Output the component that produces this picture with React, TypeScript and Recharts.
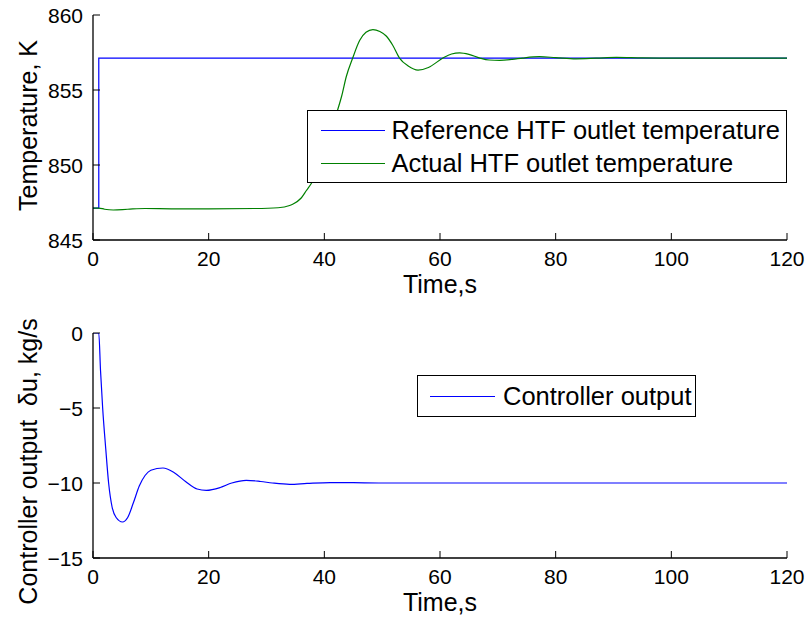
import React from "react";
import { LineChart, Line, XAxis, YAxis, Legend } from "recharts";

// time stamps (s) and values
const refTime = [0, 1, 1, 120];
const refTemp = [847.13, 847.13, 857.13, 857.13];

const actTime = [0, 1, 2, 3.5, 6, 9, 14, 20, 28, 32, 34, 34.6, 36, 36.9, 37.8, 39, 40, 41, 42, 43, 43.8, 44.9, 46.1, 47.2, 48.4, 49.6, 50.7, 51.8, 53, 54.5, 56.2, 58, 60.5, 62, 63.4, 65, 66.9, 68.5, 70.3, 72.5, 74.3, 77.2, 80, 83.5, 87, 90.5, 95, 100, 110, 120];
const actTemp = [847.13, 847.13, 847.05, 847.0, 847.05, 847.1, 847.08, 847.08, 847.1, 847.15, 847.3, 847.4, 847.8, 848.3, 848.8, 849.7, 850.7, 852.0, 853.3, 854.6, 855.9, 857.13, 858.3, 858.85, 859.03, 858.9, 858.6, 858.0, 857.13, 856.6, 856.33, 856.5, 857.13, 857.4, 857.48, 857.38, 857.13, 857.0, 856.98, 857.04, 857.13, 857.22, 857.16, 857.08, 857.12, 857.17, 857.14, 857.13, 857.13, 857.13];

const ctlTime = [0, 1, 1.3, 1.67, 2.2, 2.7, 3.3, 4, 5.1, 6, 7, 8, 9, 10, 12.1, 14, 16, 18, 19.6, 22, 24, 26.5, 29, 31, 34, 37, 41, 45, 50, 60, 80, 100, 120];
const ctlOut = [0, 0, -2.5, -5, -7.7, -10, -11.6, -12.3, -12.6, -12.3, -11.3, -10.2, -9.5, -9.15, -9.0, -9.3, -9.9, -10.4, -10.49, -10.3, -10.0, -9.82, -9.9, -10.0, -10.09, -10.03, -9.97, -9.98, -10.0, -10.0, -10.0, -10.0, -10.0];

const xTicks = [0, 20, 40, 60, 80, 100, 120];
const tempTicks = [845, 850, 855, 860];
const ctlTicks = [-15, -10, -5, 0];

const refName = "Reference HTF outlet temperature";
const actName = "Actual HTF outlet temperature";
const ctlName = "Controller output";
const legendOrder = [refName, actName, ctlName];

const refData = refTime.map((t, i) => ({ t, v: refTemp[i] }));
const actData = actTime.map((t, i) => ({ t, v: actTemp[i] }));
const ctlData = ctlTime.map((t, i) => ({ t, v: ctlOut[i] }));

const FONT = "Arial, 'Liberation Sans', Helvetica, sans-serif";
const TICK_LEN = 7;
const TICK_FS = 21;
const LABEL_FS = 25;

const fmt = (v: number) => (v < 0 ? "\u2212" + Math.abs(v) : String(v));

const BottomTick = (props: any) => {
  const { x, y, payload } = props;
  return (
    <g>
      <line x1={x} y1={y} x2={x} y2={y - TICK_LEN} stroke="#000" />
      <text x={x} y={y + 26} textAnchor="middle" fontSize={TICK_FS} fontFamily={FONT} fill="#000">
        {fmt(payload.value)}
      </text>
    </g>
  );
};

const TopTick = (props: any) => {
  const { x, y } = props;
  return <line x1={x} y1={y} x2={x} y2={y + TICK_LEN} stroke="#000" />;
};

const LeftTick = (props: any) => {
  const { x, y, payload } = props;
  return (
    <g>
      <line x1={x} y1={y} x2={x + TICK_LEN} y2={y} stroke="#000" />
      <text x={x - 10} y={y + 7.5} textAnchor="end" fontSize={TICK_FS} fontFamily={FONT} fill="#000">
        {fmt(payload.value)}
      </text>
    </g>
  );
};

const RightTick = (props: any) => {
  const { x, y } = props;
  return <line x1={x} y1={y} x2={x - TICK_LEN} y2={y} stroke="#000" />;
};

const xLabel = (baseline: number) => (props: any) => {
  const { x, y, width } = props.viewBox;
  return (
    <text x={x + width / 2} y={y + baseline} textAnchor="middle" fontSize={LABEL_FS} fontFamily={FONT} fill="#000">
      Time,s
    </text>
  );
};

const yLabel = (text: string, bx: number, shift = 0) => (props: any) => {
  const { y, height } = props.viewBox;
  const cy = y + height / 2 + shift;
  return (
    <text
      x={bx}
      y={cy}
      transform={`rotate(-90, ${bx}, ${cy})`}
      textAnchor="middle"
      fontSize={LABEL_FS}
      fontFamily={FONT}
      fill="#000"
      style={{ whiteSpace: "pre" }}
    >
      {text}
    </text>
  );
};

const BoxLegend = (props: any) => {
  const { payload, padTop, sampleLeft, sampleW, gap, rowH } = props;
  const items = [...(payload || [])].sort(
    (a: any, b: any) => legendOrder.indexOf(a.value) - legendOrder.indexOf(b.value)
  );
  return (
    <div
      style={{
        width: "100%",
        height: "100%",
        boxSizing: "border-box",
        border: "1.5px solid #000",
        background: "#fff",
        paddingTop: padTop,
        fontFamily: FONT,
        fontSize: LABEL_FS + 0.5,
        color: "#000",
      }}
    >
      {items.map((p: any) => (
        <div key={p.value} style={{ display: "flex", alignItems: "center", height: rowH, whiteSpace: "nowrap" }}>
          <span style={{ display: "inline-block", marginLeft: sampleLeft, width: sampleW, borderTop: `1.3px solid ${p.color}` }} />
          <span style={{ marginLeft: gap }}>{p.value}</span>
        </div>
      ))}
    </div>
  );
};

export default function App() {
  return (
    <div style={{ position: "absolute", left: 0, top: 0, width: 807, height: 619, background: "#fff" }}>
      <div style={{ position: "absolute", left: 0, top: 0 }}>
        <LineChart width={807} height={310} margin={{ top: 15, right: 20, bottom: 0, left: 0 }}>
          <XAxis
            dataKey="t"
            type="number"
            domain={[0, 120]}
            ticks={xTicks}
            allowDataOverflow
            height={70}
            tickSize={0}
            tickMargin={0}
            tickLine={false}
            tick={<BottomTick />}
            axisLine={{ stroke: "#000", strokeWidth: 1.3 }}
            label={xLabel(53)}
          />
          <XAxis
            xAxisId="top"
            orientation="top"
            type="number"
            domain={[0, 120]}
            ticks={xTicks}
            allowDataOverflow
            height={0}
            tickSize={0}
            tickMargin={0}
            tickLine={false}
            tick={<TopTick />}
            axisLine={{ stroke: "#000", strokeWidth: 1.3 }}
          />
          <YAxis
            type="number"
            domain={[845, 860]}
            ticks={tempTicks}
            allowDataOverflow
            width={93}
            tickSize={0}
            tickMargin={0}
            tickLine={false}
            tick={<LeftTick />}
            axisLine={{ stroke: "#000", strokeWidth: 1.3 }}
            label={yLabel("Temperature, K", 37, -2)}
          />
          <YAxis
            yAxisId="right"
            orientation="right"
            type="number"
            domain={[845, 860]}
            ticks={tempTicks}
            allowDataOverflow
            width={0}
            tickSize={0}
            tickMargin={0}
            tickLine={false}
            tick={<RightTick />}
            axisLine={{ stroke: "#000", strokeWidth: 1.3 }}
          />
          <Line
            data={refData}
            dataKey="v"
            name={refName}
            type="linear"
            stroke="#0000ff"
            strokeWidth={1.2}
            dot={false}
            isAnimationActive={false}
          />
          <Line
            data={actData}
            dataKey="v"
            name={actName}
            type="monotone"
            stroke="#008000"
            strokeWidth={1.2}
            dot={false}
            isAnimationActive={false}
          />
          <Legend
            layout="vertical"
            align="center"
            verticalAlign="middle"
            wrapperStyle={{ left: 307, top: 110, width: 480, height: 73 }}
            content={(p: any) => (
              <BoxLegend payload={p.payload} padTop={3} sampleLeft={12.5} sampleW={64} gap={7} rowH={33} />
            )}
          />
        </LineChart>
      </div>
      <div style={{ position: "absolute", left: 0, top: 310 }}>
        <LineChart width={807} height={309} margin={{ top: 23, right: 20, bottom: 0, left: 0 }}>
          <XAxis
            dataKey="t"
            type="number"
            domain={[0, 120]}
            ticks={xTicks}
            allowDataOverflow
            height={61}
            tickSize={0}
            tickMargin={0}
            tickLine={false}
            tick={<BottomTick />}
            axisLine={{ stroke: "#000", strokeWidth: 1.3 }}
            label={xLabel(53)}
          />
          <XAxis
            xAxisId="top"
            orientation="top"
            type="number"
            domain={[0, 120]}
            ticks={xTicks}
            allowDataOverflow
            height={0}
            tickSize={0}
            tickMargin={0}
            tickLine={false}
            tick={<TopTick />}
            axisLine={{ stroke: "#000", strokeWidth: 1.3 }}
          />
          <YAxis
            type="number"
            domain={[-15, 0]}
            ticks={ctlTicks}
            allowDataOverflow
            width={93}
            tickSize={0}
            tickMargin={0}
            tickLine={false}
            tick={<LeftTick />}
            axisLine={{ stroke: "#000", strokeWidth: 1.3 }}
            label={yLabel("Controller output  \u03b4u, kg/s", 37, 16)}
          />
          <YAxis
            yAxisId="right"
            orientation="right"
            type="number"
            domain={[-15, 0]}
            ticks={ctlTicks}
            allowDataOverflow
            width={0}
            tickSize={0}
            tickMargin={0}
            tickLine={false}
            tick={<RightTick />}
            axisLine={{ stroke: "#000", strokeWidth: 1.3 }}
          />
          <Line
            data={ctlData}
            dataKey="v"
            name={ctlName}
            type="monotone"
            stroke="#0000ff"
            strokeWidth={1.2}
            dot={false}
            isAnimationActive={false}
          />
          <Legend
            layout="vertical"
            align="center"
            verticalAlign="middle"
            wrapperStyle={{ left: 417, top: 65, width: 279, height: 42 }}
            content={(p: any) => (
              <BoxLegend payload={p.payload} padTop={2} sampleLeft={12} sampleW={65} gap={8} rowH={37} />
            )}
          />
        </LineChart>
      </div>
    </div>
  );
}
